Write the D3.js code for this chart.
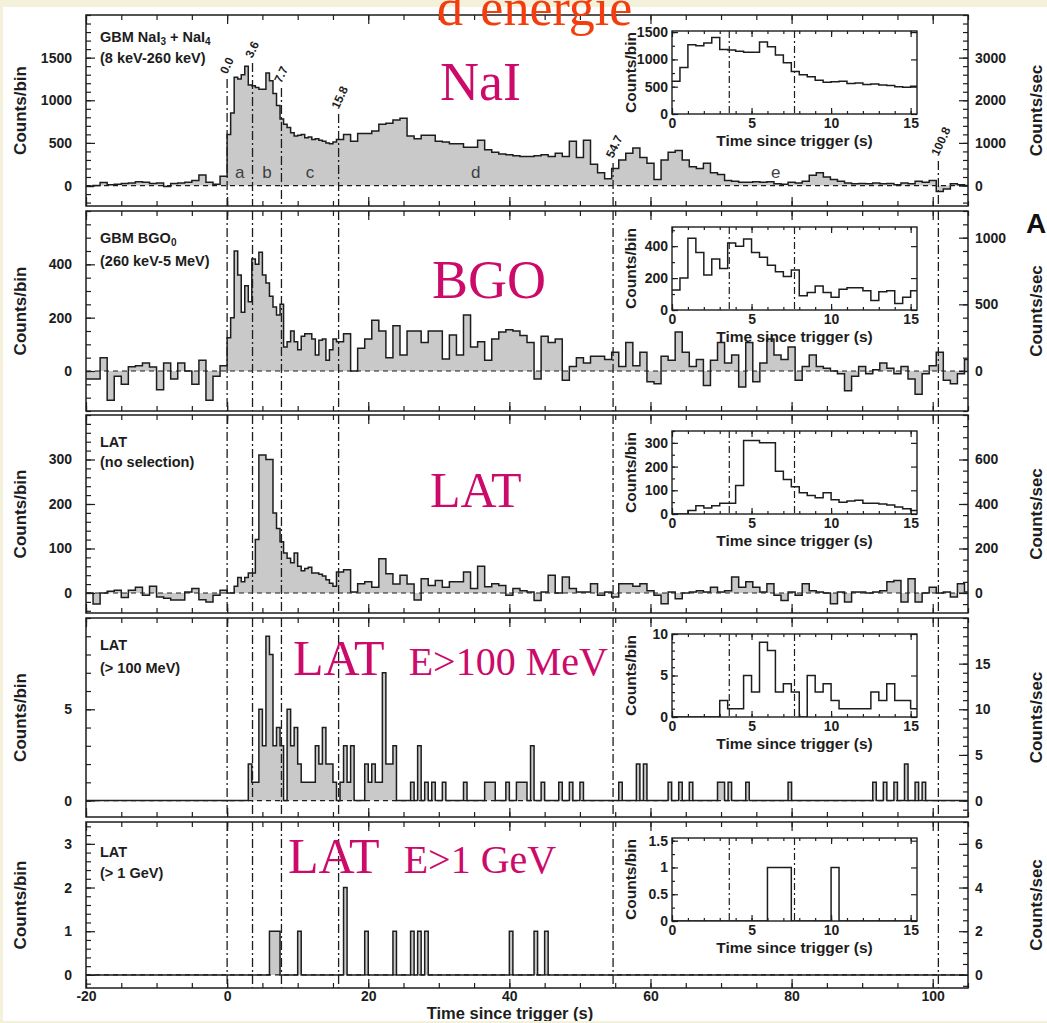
<!DOCTYPE html>
<html lang="fr">
<head>
<meta charset="utf-8">
<title>GRB 080916C – courbes de lumière par bande d'énergie</title>
<script src="https://cdn.jsdelivr.net/npm/d3@7/dist/d3.min.js"></script>
<style>
  html, body { margin: 0; padding: 0; background: #ffffff; }
  svg { display: block; }
</style>
</head>
<body>
<svg id="fig" width="1047" height="1023"></svg>
<script>
// ---------------------------------------------------------------------------
// Data: counts per 0.5 s bin. Main light curves use 1-s steps before the
// trigger and after 15.5 s; the 0–15.5 s window is shared with the insets.
// ---------------------------------------------------------------------------

// Interval boundaries (s after trigger) and their names
const intervalEdges = [0.0, 3.6, 7.7, 15.8, 54.7, 100.8];
const intervalEdgeLabels = ["0.0", "3.6", "7.7", "15.8", "54.7", "100.8"];
const intervalNames = ["a", "b", "c", "d", "e"];

// GBM NaI3 + NaI4 (8 keV–260 keV)
const naiPre = [-10, 0, 35, 10, 15, 25, 30, 45, 40, 25, 30, -10, 25, 30, 40, 60, 125, 40, 15, 110];
const naiEarly = [600, 850, 1270, 1250, 1300, 1400, 1180, 1170, 1150, 1130, 1130, 1320, 1230, 1080, 940, 780,
  720, 680, 620, 580, 590, 600, 560, 570, 540, 550, 530, 520, 500, 490, 510];
const naiLate = [540, 600, 520, 610, 610, 640, 720, 730, 770, 790,
  580, 550, 590, 590, 520, 510, 490, 490, 450, 450,
  530, 420, 390, 370, 360, 350, 340, 340, 350, 360,
  340, 380, 340, 520, 330, 530, 250, 150, 80, 200,
  300, 380, 440, 330, 260, 70, 300, 390, 410, 300,
  220, 200, 260, 150, 130, 60, 50, 40, 40, 45,
  40, 45, 20, 15, 40, 30, 50, 120, 150, 100,
  70, 50, 30, 20, 25, 20, 30, 20, 25, 10,
  30, 20, 50, 40, 60, -70, -40, 20, 10, 0];

// GBM BGO0 (260 keV–5 MeV)
const bgoPre = [-30, -30, 50, -110, -20, -50, 16, 20, 30, 15, -70, 30, -30, 30, 0, -50, 40, -110, -20, 20];
const bgoEarly = [125, 200, 450, 360, 220, 320, 260, 420, 400, 445, 360, 330, 280, 240, 210, 250,
  90, 110, 150, 110, 80, 130, 140, 140, 120, 60, 115, 120, 40, 80, 120];
const bgoLate = [110, 140, 0, 85, 120, 190, 150, 50, 170, 60,
  150, 150, 107, 150, 150, 45, 135, 60, 210, 90,
  110, 40, 120, 146, 155, 150, 133, 107, -30, 130,
  107, 120, -35, 17, 50, 30, 55, 55, 43, 70,
  17, 107, 20, 70, -40, -48, 55, 40, 146, 70,
  17, 43, -54, 40, 107, 30, 60, -60, 107, -40,
  30, 120, 60, 43, 90, -35, 17, 60, 17, 10,
  0, -10, -74, -20, 17, -10, 5, 30, 10, -10,
  17, -30, -87, -10, 20, 70, -35, -48, -10, 43];

// LAT, no event selection
const latPre = [0, -25, 0, 4, 6, -10, 6, 13, -5, 15, -9, -12, -16, -16, 2, 10, -15, -20, -5, 6];
const latEarly = [0, 0, 15, 35, 25, 35, 45, 45, 120, 310, 310, 300, 300, 180, 145, 115,
  90, 78, 68, 90, 60, 50, 55, 58, 45, 45, 42, 38, 30, 22, 15];
const latLate = [47, 52, 2, 21, 25, 13, 77, 43, 20, 40,
  20, -16, 32, 17, 28, 13, 25, 25, 47, 10,
  60, 14, 21, 17, -5, 10, 5, 2, -17, 2,
  40, 0, 36, 10, 2, 2, 21, -5, 2, -9,
  21, 21, 15, 21, 5, -5, -24, 2, -13, 0,
  2, 5, 2, 13, 2, 5, 36, 13, 25, 13,
  2, 21, -5, -17, 2, -5, 21, 5, 2, 0,
  -24, 2, -20, 2, 2, 0, 2, 5, 25, 28,
  -20, 32, -20, 0, 13, 0, 2, -9, 21, 2];

// LAT, E > 100 MeV: early window, then [bin start (s), counts] for non-empty bins
const lat100Early = [0, 0, 0, 0, 0, 0, 2, 1, 1, 5, 3, 9, 8, 3, 4, 3,
  0, 5, 3, 4, 2, 1, 1, 1, 1, 3, 2, 4, 2, 2, 1];
const lat100Late = [[16.0, 1], [16.5, 3], [17.0, 1], [17.5, 3], [19.5, 2], [20.0, 1], [20.5, 2], [21.0, 1],
  [21.5, 1], [22.0, 7], [22.5, 2], [23.0, 2], [23.5, 3], [26.0, 1], [27.0, 3], [28.0, 1], [29.0, 1],
  [30.5, 1], [33.5, 1], [36.5, 1], [37.0, 1], [37.5, 1], [39.5, 1], [41.0, 1], [41.5, 1], [42.0, 1],
  [43.0, 3], [44.5, 1], [47.0, 1], [48.5, 1], [50.0, 1], [55.5, 1], [58.0, 2], [59.0, 2], [62.5, 1],
  [64.0, 1], [65.5, 1], [69.5, 1], [70.0, 1], [71.0, 1], [73.5, 1], [79.5, 1], [91.5, 1], [93.0, 1],
  [94.5, 1], [96.0, 2], [97.5, 1], [98.5, 1]];

// LAT, E > 1 GeV
const lat1Early = [0, 0, 0, 0, 0, 0, 0, 0, 0, 0, 0, 0, 1, 1, 1, 0,
  0, 0, 0, 0, 1, 0, 0, 0, 0, 0, 0, 0, 0, 0, 0];
const lat1Late = [[16.5, 2], [19.5, 1], [23.5, 1], [26.0, 1], [27.0, 1], [28.0, 1], [40.0, 1], [43.5, 1], [45.0, 1]];

// Axis tick values (counts/bin on the left, counts/sec on the right)
const naiTicks = [0, 500, 1000, 1500], naiRateTicks = [0, 1000, 2000, 3000], naiInsetTicks = [0, 500, 1000, 1500];
const bgoTicks = [0, 200, 400], bgoRateTicks = [0, 500, 1000], bgoInsetTicks = [0, 200, 400];
const latTicks = [0, 100, 200, 300], latRateTicks = [0, 200, 400, 600], latInsetTicks = [0, 100, 200, 300];
const lat100Ticks = [0, 5], lat100RateTicks = [0, 5, 10, 15], lat100InsetTicks = [0, 5, 10];
const lat1Ticks = [0, 1, 2, 3], lat1RateTicks = [0, 2, 4, 6], lat1InsetTicks = [0, 0.5, 1, 1.5];
const timeTicks = [-20, 0, 20, 40, 60, 80, 100];
const insetTimeTicks = [0, 5, 10, 15];

const BIN_WIDTH = 0.5; // s

// ---------------------------------------------------------------------------
function buildDense(pre, early, late) {
  const bins = [];
  pre.forEach((v, i) => bins.push({ t0: -20 + i, t1: -19 + i, v }));
  early.forEach((v, i) => bins.push({ t0: i * 0.5, t1: (i + 1) * 0.5, v }));
  late.forEach((v, i) => bins.push({ t0: 15.5 + i, t1: 16.5 + i, v }));
  return bins;
}
function buildSparse(early, late) {
  const bins = [{ t0: -20, t1: 0, v: 0 }];
  early.forEach((v, i) => bins.push({ t0: i * 0.5, t1: (i + 1) * 0.5, v }));
  const counts = new Map(late);
  for (let k = 0; k < 180; k++) {
    const t0 = 15.5 + k * 0.5;
    bins.push({ t0, t1: t0 + 0.5, v: counts.get(t0) || 0 });
  }
  return bins;
}
function stepPoints(bins) {
  const pts = bins.map(b => [b.t0, b.v]);
  const last = bins[bins.length - 1];
  pts.push([last.t1, last.v]);
  return pts;
}
function minorValues(domain, step) {
  const out = [];
  const start = Math.ceil(domain[0] / step - 1e-9) * step;
  for (let v = start; v <= domain[1] + 1e-9; v += step) out.push(+v.toFixed(6));
  return out;
}

const panels = [
  { box: [15, 206], yDomain: [-240, 2000], ticks: naiTicks, minor: 100, rateTicks: naiRateTicks, rateMinor: 200,
    bins: buildDense(naiPre, naiEarly, naiLate),
    inset: { values: naiEarly, yMax: 1520, ticks: naiInsetTicks, minor: 250 },
    caption: [[["GBM NaI"], ["3", true], [" + NaI"], ["4", true]], [["(8 keV-260 keV)"]]], captionY: [27, 48] },
  { box: [211, 411], yDomain: [-150, 600], ticks: bgoTicks, minor: 50, rateTicks: bgoRateTicks, rateMinor: 100,
    bins: buildDense(bgoPre, bgoEarly, bgoLate),
    inset: { values: bgoEarly, yMax: 520, ticks: bgoInsetTicks, minor: 100 },
    caption: [[["GBM BGO"], ["0", true]], [["(260 keV-5 MeV)"]]], captionY: [32, 55] },
  { box: [415, 613], yDomain: [-45, 400], ticks: latTicks, minor: 20, rateTicks: latRateTicks, rateMinor: 50,
    bins: buildDense(latPre, latEarly, latLate),
    inset: { values: latEarly, yMax: 350, ticks: latInsetTicks, minor: 50 },
    caption: [[["LAT"]], [["(no selection)"]]], captionY: [32, 52] },
  { box: [618, 817], yDomain: [-0.9, 10], ticks: lat100Ticks, minor: 1, rateTicks: lat100RateTicks, rateMinor: 1,
    bins: buildSparse(lat100Early, lat100Late),
    inset: { values: lat100Early, yMax: 10, ticks: lat100InsetTicks, minor: 1 },
    caption: [[["LAT"]], [["(> 100 MeV)"]]], captionY: [32, 55] },
  { box: [822, 988], yDomain: [-0.3, 3.5], ticks: lat1Ticks, minor: 0.2, rateTicks: lat1RateTicks, rateMinor: 0.5,
    bins: buildSparse(lat1Early, lat1Late),
    inset: { values: lat1Early, yMax: 1.55, ticks: lat1InsetTicks, minor: 0.25 },
    caption: [[["LAT"]], [["(> 1 GeV)"]]], captionY: [35, 56] }
];

// ---------------------------------------------------------------------------
const svg = d3.select("#fig");
const INK = "#1d1d1d", FILL = "#c9c9c9";
const SANS = "'Liberation Sans', Arial, Helvetica, sans-serif";
const SERIF = "'Liberation Serif', 'Times New Roman', Times, serif";
const PINK = "#cc0a6a";

const x = d3.scaleLinear().domain([-20, 105]).range([86, 968]);
const xIn = d3.scaleLinear().domain([0, 15.4]).range([672, 917]);
const defs = svg.append("defs");
svg.append("rect").attr("width", 1047).attr("height", 1023).attr("fill", "#ffffff");

// offsets (px below the top frame) of the rotated boundary labels
const edgeLabelDrop = [58, 42, 67, 93, 142, 140];

function styleAxis(sel, size) {
  sel.select(".domain").remove();
  sel.selectAll(".tick line").attr("stroke", INK).attr("stroke-width", 1.2);
  sel.selectAll(".tick text").attr("fill", INK)
    .style("font-family", SANS).style("font-size", size + "px").style("font-weight", "bold");
  return sel;
}
function addAxis(parent, gen, tx, ty, size) {
  return styleAxis(parent.append("g").attr("transform", `translate(${tx},${ty})`).call(gen), size || 14);
}

panels.forEach((p, i) => {
  const [top, bottom] = p.box;
  const mid = (top + bottom) / 2;
  const y = d3.scaleLinear().domain(p.yDomain).range([bottom, top]);
  const yRate = d3.scaleLinear().domain(p.yDomain.map(v => v / BIN_WIDTH)).range([bottom, top]);
  const g = svg.append("g").attr("class", "panel");

  const clipId = "plotclip" + i;
  defs.append("clipPath").attr("id", clipId).append("rect")
    .attr("x", x.range()[0]).attr("y", top).attr("width", x.range()[1] - x.range()[0]).attr("height", bottom - top);
  const plot = g.append("g").attr("clip-path", `url(#${clipId})`);
  const pts = stepPoints(p.bins);

  plot.append("path")
    .attr("d", d3.area().curve(d3.curveStepAfter).x(d => x(d[0])).y0(y(0)).y1(d => y(d[1]))(pts))
    .attr("fill", FILL);
  plot.append("line")
    .attr("x1", x.range()[0]).attr("x2", x.range()[1]).attr("y1", y(0)).attr("y2", y(0))
    .attr("stroke", INK).attr("stroke-width", 1.2).attr("stroke-dasharray", "5,4");
  plot.append("path")
    .attr("d", d3.line().curve(d3.curveStepAfter).x(d => x(d[0])).y(d => y(d[1]))(pts))
    .attr("fill", "none").attr("stroke", INK).attr("stroke-width", 1.5);

  // interval boundaries
  intervalEdges.forEach((t, k) => {
    const y0 = i === 0 ? top + edgeLabelDrop[k] + 6 : top;
    g.append("line").attr("x1", x(t)).attr("x2", x(t)).attr("y1", y0).attr("y2", bottom)
      .attr("stroke", INK).attr("stroke-width", 1.3).attr("stroke-dasharray", "9,3,2,3");
  });

  // frame
  g.append("rect").attr("x", x.range()[0]).attr("y", top)
    .attr("width", x.range()[1] - x.range()[0]).attr("height", bottom - top)
    .attr("fill", "none").attr("stroke", INK).attr("stroke-width", 1.5);

  // y axes
  addAxis(g, d3.axisLeft(y).tickValues(p.ticks).tickSizeInner(-9).tickSizeOuter(0).tickPadding(14).tickFormat(String), x.range()[0], 0);
  addAxis(g, d3.axisLeft(y).tickValues(minorValues(p.yDomain, p.minor)).tickSizeInner(-5).tickSizeOuter(0).tickFormat(""), x.range()[0], 0);
  const rateDomain = yRate.domain();
  addAxis(g, d3.axisRight(yRate).tickValues(p.rateTicks).tickSizeInner(-9).tickSizeOuter(0).tickPadding(7).tickFormat(String), x.range()[1], 0);
  addAxis(g, d3.axisRight(yRate).tickValues(minorValues(rateDomain, p.rateMinor)).tickSizeInner(-5).tickSizeOuter(0).tickFormat(""), x.range()[1], 0);

  // time axes (top and bottom of each panel)
  const minorT = minorValues([-20, 105], 5);
  addAxis(g, d3.axisTop(x).tickValues(timeTicks).tickSizeInner(-9).tickSizeOuter(0).tickFormat(""), 0, top);
  addAxis(g, d3.axisTop(x).tickValues(minorT).tickSizeInner(-5).tickSizeOuter(0).tickFormat(""), 0, top);
  const last = i === panels.length - 1;
  addAxis(g, d3.axisBottom(x).tickValues(timeTicks).tickSizeInner(-9).tickSizeOuter(0).tickPadding(3)
    .tickFormat(last ? String : ""), 0, bottom);
  addAxis(g, d3.axisBottom(x).tickValues(minorT).tickSizeInner(-5).tickSizeOuter(0).tickFormat(""), 0, bottom);

  // axis titles
  g.append("text").attr("transform", `translate(26,${mid}) rotate(-90)`).attr("text-anchor", "middle")
    .style("font", `bold 17px ${SANS}`).attr("fill", INK).text("Counts/bin");
  g.append("text").attr("transform", `translate(1042,${mid}) rotate(-90)`).attr("text-anchor", "middle")
    .style("font", `bold 17px ${SANS}`).attr("fill", INK).text("Counts/sec");

  // caption (detector / selection)
  p.caption.forEach((line, li) => {
    const t = g.append("text").attr("x", 100).attr("y", top + p.captionY[li])
      .style("font", `bold 14.5px ${SANS}`).attr("fill", INK);
    line.forEach(([s, sub]) => {
      const ts = t.append("tspan").text(s);
      if (sub) ts.attr("dy", 3).style("font-size", "10px");
      else if (t.selectAll("tspan").size() > 1) ts.attr("dy", -3);
    });
  });

  // ---- inset: first 15.5 s at full resolution ----
  const iTop = top + 16, iBot = top + 99;
  const iy = d3.scaleLinear().domain([0, p.inset.yMax]).range([iBot, iTop]);
  const ig = g.append("g").attr("class", "inset");
  ig.append("rect").attr("x", xIn.range()[0]).attr("y", iTop)
    .attr("width", xIn.range()[1] - xIn.range()[0]).attr("height", iBot - iTop).attr("fill", "#ffffff");
  const iclip = "insetclip" + i;
  defs.append("clipPath").attr("id", iclip).append("rect")
    .attr("x", xIn.range()[0]).attr("y", iTop).attr("width", xIn.range()[1] - xIn.range()[0]).attr("height", iBot - iTop);
  const ipts = p.inset.values.map((v, k) => [k * 0.5, v]);
  ipts.push([p.inset.values.length * 0.5, p.inset.values[p.inset.values.length - 1]]);
  ig.append("path").attr("clip-path", `url(#${iclip})`)
    .attr("d", d3.line().curve(d3.curveStepAfter).x(d => xIn(d[0])).y(d => iy(d[1]))(ipts))
    .attr("fill", "none").attr("stroke", INK).attr("stroke-width", 1.5);
  [intervalEdges[1], intervalEdges[2]].forEach(t => {
    ig.append("line").attr("x1", xIn(t)).attr("x2", xIn(t)).attr("y1", iTop).attr("y2", iBot)
      .attr("stroke", INK).attr("stroke-width", 1.2).attr("stroke-dasharray", "7,3,2,3");
  });
  ig.append("rect").attr("x", xIn.range()[0]).attr("y", iTop)
    .attr("width", xIn.range()[1] - xIn.range()[0]).attr("height", iBot - iTop)
    .attr("fill", "none").attr("stroke", INK).attr("stroke-width", 1.4);
  addAxis(ig, d3.axisLeft(iy).tickValues(p.inset.ticks).tickSizeInner(-6).tickSizeOuter(0).tickPadding(4).tickFormat(String), xIn.range()[0], 0);
  addAxis(ig, d3.axisLeft(iy).tickValues(minorValues([0, p.inset.yMax], p.inset.minor)).tickSizeInner(-3).tickSizeOuter(0).tickFormat(""), xIn.range()[0], 0);
  addAxis(ig, d3.axisRight(iy).tickValues(p.inset.ticks).tickSizeInner(-6).tickSizeOuter(0).tickFormat(""), xIn.range()[1], 0);
  const iMinorT = minorValues([0, 15.4], 1);
  addAxis(ig, d3.axisBottom(xIn).tickValues(insetTimeTicks).tickSizeInner(-6).tickSizeOuter(0).tickPadding(4).tickFormat(String), 0, iBot);
  addAxis(ig, d3.axisBottom(xIn).tickValues(iMinorT).tickSizeInner(-3).tickSizeOuter(0).tickFormat(""), 0, iBot);
  addAxis(ig, d3.axisTop(xIn).tickValues(insetTimeTicks).tickSizeInner(-6).tickSizeOuter(0).tickFormat(""), 0, iTop);
  addAxis(ig, d3.axisTop(xIn).tickValues(iMinorT).tickSizeInner(-3).tickSizeOuter(0).tickFormat(""), 0, iTop);
  ig.append("text").attr("transform", `translate(636,${(iTop + iBot) / 2}) rotate(-90)`).attr("text-anchor", "middle")
    .style("font", `bold 15.5px ${SANS}`).attr("fill", INK).text("Counts/bin");
  ig.append("text").attr("x", (xIn.range()[0] + xIn.range()[1]) / 2).attr("y", iBot + 32).attr("text-anchor", "middle")
    .style("font", `bold 15.5px ${SANS}`).attr("fill", INK).text("Time since trigger (s)");

  if (i === 0) {
    // boundary labels and interval names
    intervalEdges.forEach((t, k) => {
      g.append("text").attr("transform", `translate(${x(t) - 4},${top + edgeLabelDrop[k]}) rotate(-65)`)
        .attr("dy", "0.35em").style("font", `bold 12px ${SANS}`).attr("fill", INK).text(intervalEdgeLabels[k]);
    });
    intervalNames.forEach((n, k) => {
      g.append("text").attr("x", x((intervalEdges[k] + intervalEdges[k + 1]) / 2)).attr("y", 178)
        .attr("text-anchor", "middle").style("font", `17px ${SANS}`).attr("fill", "#3f3f3f").text(n);
    });
  }
});

// global time-axis title
svg.append("text").attr("x", 510).attr("y", 1018.5).attr("text-anchor", "middle")
  .style("font", `bold 16.5px ${SANS}`).attr("fill", INK).text("Time since trigger (s)");

// stray glyph at the slide edge
svg.append("text").attr("x", 1026).attr("y", 233).style("font", `bold 28px ${SANS}`).attr("fill", "#111").text("A");

// slide border
const BEIGE = "#f4f1db";
svg.append("rect").attr("x", 0).attr("y", 0).attr("width", 1047).attr("height", 7).attr("fill", BEIGE);
svg.append("rect").attr("x", 0).attr("y", 0).attr("width", 3).attr("height", 1023).attr("fill", BEIGE);
svg.append("rect").attr("x", 0).attr("y", 1021).attr("width", 1047).attr("height", 2).attr("fill", BEIGE);

// energy band tags
const tags = [
  { big: "NaI", small: null, x: 440, y: 100 },
  { big: "BGO", small: null, x: 432, y: 298 },
  { big: "LAT", small: null, x: 430, y: 507 },
  { big: "LAT", small: "E>100 MeV", x: 293, y: 675 },
  { big: "LAT", small: "E>1 GeV", x: 288, y: 873 }
];
tags.forEach(tg => {
  const t = svg.append("text").attr("x", tg.x).attr("y", tg.y).attr("fill", PINK)
    .style("font-family", SERIF).style("font-size", tg.big === "LAT" ? "50px" : "54px").text(tg.big);
  if (tg.small) t.append("tspan").attr("dx", 24).style("font-size", "40px").text(tg.small);
});
// slide heading, running off the top edge
svg.append("text").attr("x", 437).attr("y", 25).attr("fill", "#f43d0e")
  .style("font-family", SERIF).style("font-size", "52px").text("d´énergie");
</script>
</body>
</html>
